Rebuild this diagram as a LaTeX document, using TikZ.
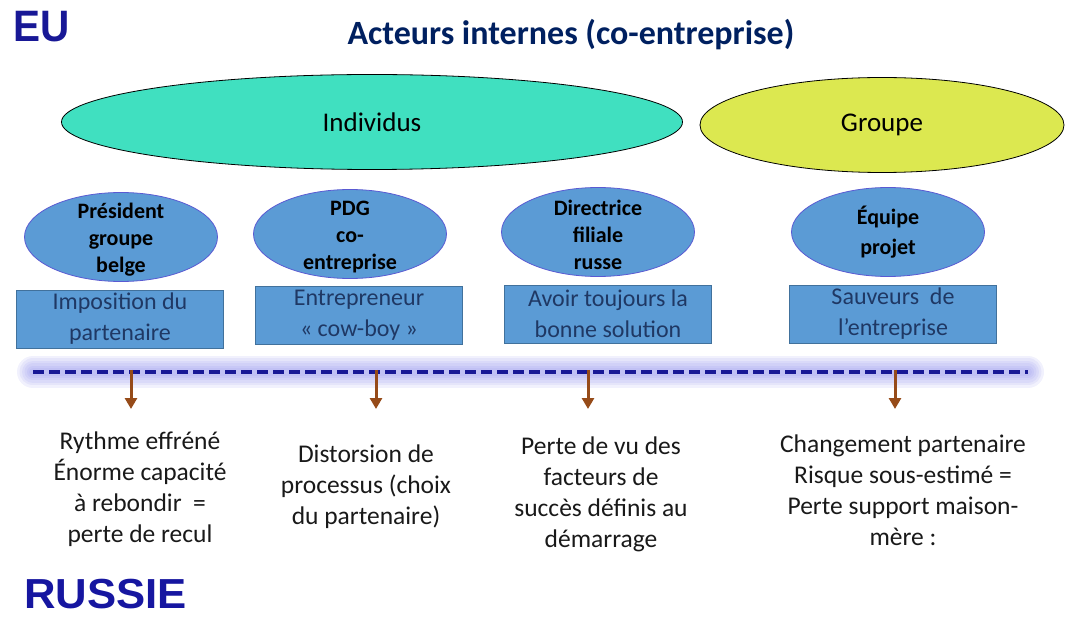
\documentclass[tikz,border=0pt]{standalone}
\usepackage{fontspec}
\setmainfont{Carlito}
\newfontfamily\arialfont{Liberation Sans}
\usepackage{tikz}
\usetikzlibrary{shapes,arrows,arrows.meta,positioning}
\definecolor{turq}{RGB}{64,224,192}
\definecolor{lime}{RGB}{220,232,80}
\definecolor{steel}{RGB}{91,155,213}
\definecolor{steeldark}{RGB}{65,113,156}
\definecolor{violetedge}{RGB}{90,90,210}
\definecolor{navy}{RGB}{0,32,96}
\definecolor{royal}{RGB}{24,24,150}
\definecolor{inkblue}{RGB}{31,56,100}
\definecolor{rust}{RGB}{150,75,25}
\definecolor{glow}{RGB}{140,140,235}
\tikzstyle{region} = [inner sep=0pt, anchor=west, text=royal, font=\arialfont\bfseries\fontsize{44}{44}\selectfont]
\tikzstyle{group} = [ellipse, draw=black, line width=0.8pt, minimum height=95pt, font=\fontsize{27}{30}\selectfont]
\tikzstyle{actor} = [ellipse, draw=violetedge, line width=0.8pt, fill=steel, minimum width=193pt, minimum height=89pt]
\tikzstyle{actortext} = [align=center, text=black, yshift=-3pt, font=\bfseries\fontsize{22}{27}\selectfont]
\tikzstyle{role} = [rectangle, draw=steeldark, line width=0.8pt, fill=steel, minimum width=207pt, minimum height=58pt, align=center, text=inkblue, font=\fontsize{24}{31}\selectfont]
\tikzstyle{effect} = [align=center, text=black!90, font=\fontsize{25.5}{31}\selectfont]
\tikzstyle{halo} = [glow, line cap=round, opacity=0.12]
\tikzstyle{tedge}  = [draw, rust, line width=3pt, -{Triangle[length=11pt,width=12pt]}]

\begin{document}
\begin{tikzpicture}[x=1pt, y=-1pt]
\useasboundingbox (0,0) rectangle (1068,617);

% headings =============================
\node[region] (eu) at (13,27) {\scalebox{0.92}[1]{EU}};
\node[text=navy, font=\bfseries\fontsize{34}{38}\selectfont] (title) at (571,35) {Acteurs internes (co-entreprise)};
\node[region, text=royal!90!blue, font=\arialfont\bfseries\fontsize{42}{42}\selectfont] (russie) at (24,594) {\scalebox{1.04}[1]{RUSSIE}};

% actors =============================
\node[group, fill=turq, minimum width=621pt] (indiv) at (372,122) {Individus};
\node[group, fill=lime, minimum width=364pt] (groupe) at (882,125) {Groupe};

\node[actor] (pres) at (121,237) {};
\node[actortext] (prestext) at (pres) {Président\\groupe\\belge};
\node[actor] (pdg) at (350,234) {};
\node[actortext] (pdgtext) at (pdg) {PDG\\co-\\entreprise};
\node[actor] (dir) at (598,232) {};
\node[actortext] (dirtext) at (dir) {Directrice\\filiale\\russe};
\node[actor] (equipe) at (888,232) {};
\node[actortext, yshift=3pt, font=\bfseries\fontsize{22}{30}\selectfont] (equipetext) at (equipe) {Équipe\\projet};

\node[role] (imposition) at (120,319) {Imposition du\\partenaire};
\node[role] (cowboy) at (359,315) {Entrepreneur\\« cow-boy »};
\node[role] (solution) at (608,314) {Avoir toujours la\\bonne solution};
\node[role] (sauveurs) at (893,314) {Sauveurs~ de\\l’entreprise};

% timeline =============================
\coordinate (lineL) at (33,372);
\coordinate (lineR) at (1028,372);
\draw[halo, line width=32pt] (lineL) -- (lineR);
\draw[halo, line width=27pt] (lineL) -- (lineR);
\draw[halo, line width=22pt] (lineL) -- (lineR);
\draw[halo, line width=17pt] (lineL) -- (lineR);
\draw[halo, line width=12pt] (lineL) -- (lineR);
\draw[halo, line width=8pt] (lineL) -- (lineR);
\draw[royal, line width=4pt, dash pattern=on 11pt off 5pt] (lineL) -- (lineR);

% consequences =============================
\node[effect] (rythme) at (140,489) {Rythme effréné\\Énorme capacité\\à rebondir~ =\\perte de recul};
\node[effect] (distorsion) at (366,487) {Distorsion de\\processus (choix\\du partenaire)};
\node[effect] (perte) at (601,494) {Perte de vu des\\facteurs de\\succès définis au\\démarrage};
\node[effect] (changement) at (903,490) {Changement partenaire\\Risque sous-estimé =\\Perte support maison-\\mère :};

% edges
\coordinate (drop1) at (131,370); \coordinate (tip1) at (131,409);
\coordinate (drop2) at (376,370); \coordinate (tip2) at (376,409);
\coordinate (drop3) at (588,370); \coordinate (tip3) at (588,409);
\coordinate (drop4) at (895,370); \coordinate (tip4) at (895,409);
\draw[tedge] (drop1) -- (tip1);
\draw[tedge] (drop2) -- (tip2);
\draw[tedge] (drop3) -- (tip3);
\draw[tedge] (drop4) -- (tip4);

\end{tikzpicture}
\end{document}
